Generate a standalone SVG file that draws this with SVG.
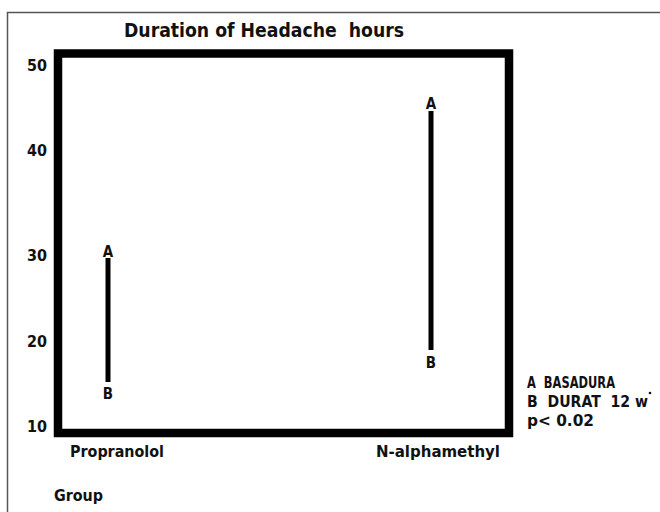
<svg xmlns="http://www.w3.org/2000/svg" width="660" height="512" viewBox="0 0 660 512">
<style>
text{font-family:"DejaVu Sans","Open Sans",sans-serif;font-stretch:condensed;font-weight:700;fill:#111;}
.t{font-size:16px;}
.n{font-size:16px;text-anchor:end;}
.lbl{font-size:15px;text-anchor:middle;}
.bar{stroke:#000;stroke-width:5;}
</style>
<rect width="660" height="512" fill="#fff"/>
<path d="M7.5,512 V12.5 H660" fill="none" stroke="#555" stroke-width="1.5"/>
<g id="title"><text x="124" y="37" font-size="19" textLength="280" lengthAdjust="spacingAndGlyphs" xml:space="preserve">Duration of Headache  hours</text></g>
<g id="plot-frame"><rect x="58" y="53.5" width="451" height="379.5" fill="none" stroke="#000" stroke-width="8.5"/></g>
<g id="y-axis">
<text class="n" x="47" y="71" textLength="20" lengthAdjust="spacingAndGlyphs">50</text>
<text class="n" x="47" y="156" textLength="20" lengthAdjust="spacingAndGlyphs">40</text>
<text class="n" x="47" y="261" textLength="20" lengthAdjust="spacingAndGlyphs">30</text>
<text class="n" x="47" y="347" textLength="20" lengthAdjust="spacingAndGlyphs">20</text>
<text class="n" x="47" y="432" textLength="20" lengthAdjust="spacingAndGlyphs">10</text>
</g>
<g id="connectors">
<line class="bar" x1="108" y1="258" x2="108" y2="382"/>
<line class="bar" x1="431" y1="111" x2="431" y2="350"/>
</g>
<g id="propranolol">
<text class="lbl" x="108" y="257">A</text>
<text class="lbl" x="108" y="399">B</text>
<text class="t" x="70" y="457" textLength="94" lengthAdjust="spacingAndGlyphs">Propranolol</text>
</g>
<g id="n-alphamethyl">
<text class="lbl" x="431" y="109">A</text>
<text class="lbl" x="431" y="368">B</text>
<text class="t" x="376" y="457" textLength="124" lengthAdjust="spacingAndGlyphs">N-alphamethyl</text>
</g>
<g id="legend">
<text class="t" x="527" y="388" textLength="88" lengthAdjust="spacingAndGlyphs" xml:space="preserve">A  BASADURA</text>
<text class="t" x="527" y="407" textLength="121" lengthAdjust="spacingAndGlyphs" xml:space="preserve">B  DURAT  12 w</text>
<circle cx="650" cy="393" r="1.3" fill="#111"/>
<text class="t" x="527" y="426" textLength="67" lengthAdjust="spacingAndGlyphs">p&lt; 0.02</text>
</g>
<g id="x-axis-title"><text class="t" x="54" y="501" textLength="49" lengthAdjust="spacingAndGlyphs">Group</text></g>
</svg>
